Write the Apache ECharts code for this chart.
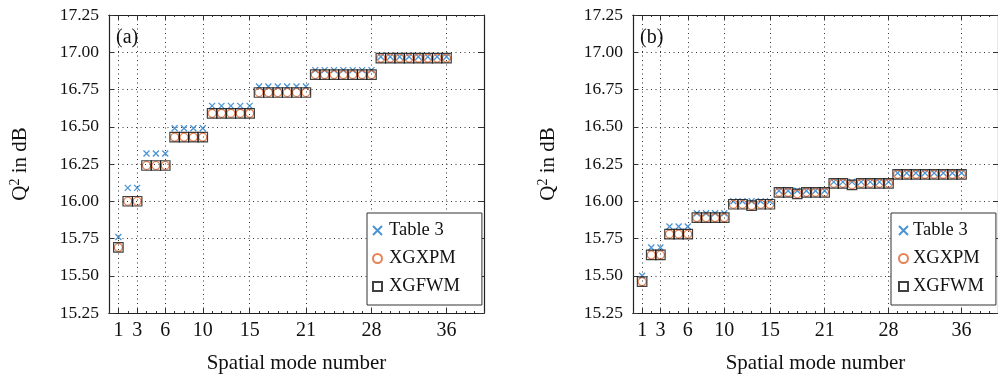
<!DOCTYPE html>
<html>
<head>
<meta charset="utf-8">
<script src="https://cdn.jsdelivr.net/npm/echarts@6.0.0/dist/echarts.min.js"></script>
<style>
  html, body { margin: 0; padding: 0; background: #fff; }
  #chart { width: 998px; height: 379px; }
</style>
</head>
<body>
<div id="chart"></div>
<script>
// spatial mode numbers
const modes = [1, 2, 3, 4, 5, 6, 7, 8, 9, 10, 11, 12, 13, 14, 15, 16, 17, 18,
  19, 20, 21, 22, 23, 24, 25, 26, 27, 28, 29, 30, 31, 32, 33, 34, 35, 36];
const xTickLabels = [1, 3, 6, 10, 15, 21, 28, 36];
const xMin = 0, xMax = 40;

// panel (a)
const tableA = [15.76, 16.09, 16.09, 16.32, 16.32, 16.32, 16.49, 16.49, 16.49, 16.49,
  16.64, 16.64, 16.64, 16.64, 16.64, 16.77, 16.77, 16.77, 16.77, 16.77, 16.77,
  16.88, 16.88, 16.88, 16.88, 16.88, 16.88, 16.88,
  16.97, 16.97, 16.97, 16.97, 16.97, 16.97, 16.97, 16.97];
const xgxpmA = [15.69, 16.00, 16.00, 16.24, 16.24, 16.24, 16.43, 16.43, 16.43, 16.43,
  16.59, 16.59, 16.59, 16.59, 16.59, 16.73, 16.73, 16.73, 16.73, 16.73, 16.73,
  16.85, 16.85, 16.85, 16.85, 16.85, 16.85, 16.85,
  16.96, 16.96, 16.96, 16.96, 16.96, 16.96, 16.96, 16.96];
const xgfwmA = [15.69, 16.00, 16.00, 16.24, 16.24, 16.24, 16.43, 16.43, 16.43, 16.43,
  16.59, 16.59, 16.59, 16.59, 16.59, 16.73, 16.73, 16.73, 16.73, 16.73, 16.73,
  16.85, 16.85, 16.85, 16.85, 16.85, 16.85, 16.85,
  16.96, 16.96, 16.96, 16.96, 16.96, 16.96, 16.96, 16.96];

// panel (b)
const tableB = [15.50, 15.69, 15.69, 15.83, 15.83, 15.83, 15.92, 15.92, 15.92, 15.92,
  16.00, 16.00, 16.00, 16.00, 16.00, 16.07, 16.07, 16.07, 16.07, 16.07, 16.07,
  16.13, 16.13, 16.13, 16.13, 16.13, 16.13, 16.13,
  16.19, 16.19, 16.19, 16.19, 16.19, 16.19, 16.19, 16.19];
const xgxpmB = [15.46, 15.64, 15.64, 15.78, 15.78, 15.78, 15.89, 15.89, 15.89, 15.89,
  15.98, 15.98, 15.97, 15.98, 15.98, 16.06, 16.06, 16.05, 16.06, 16.06, 16.06,
  16.12, 16.12, 16.11, 16.12, 16.12, 16.12, 16.12,
  16.18, 16.18, 16.18, 16.18, 16.18, 16.18, 16.18, 16.18];
const xgfwmB = [15.46, 15.64, 15.64, 15.78, 15.78, 15.78, 15.89, 15.89, 15.89, 15.89,
  15.98, 15.98, 15.97, 15.98, 15.98, 16.06, 16.06, 16.05, 16.06, 16.06, 16.06,
  16.12, 16.12, 16.11, 16.12, 16.12, 16.12, 16.12,
  16.18, 16.18, 16.18, 16.18, 16.18, 16.18, 16.18, 16.18];

const seriesNames = ['Table 3', 'XGXPM', 'XGFWM'];

const FONT = 'Liberation Serif';
const BLUE = '#1f78c8';
const ORANGE = '#e0642c';
const CROSS = 'path://M0,0L10,10M10,0L0,10';

const categories = [];
for (let i = xMin; i <= xMax; i++) categories.push(String(i));
const isMajor = (idx, val) => xTickLabels.includes(Number(val));

const grids = [
  { left: 109, top: 15, width: 375, height: 298 },
  { left: 633, top: 15, width: 375, height: 298 }
];

const dotted = { show: true, lineStyle: { color: '#333', width: 1, type: [1, 3.5] } };

function xAxesFor(g) {
  const base = {
    type: 'category', data: categories, boundaryGap: false, gridIndex: g,
    axisLine: { show: true, onZero: false, lineStyle: { color: '#222', width: 1.2 } }
  };
  return [
    Object.assign({}, base, {
      position: 'bottom',
      name: 'Spatial mode number', nameLocation: 'middle', nameGap: 40,
      nameTextStyle: { fontFamily: FONT, fontSize: 21, color: '#111' },
      axisTick: { show: true, inside: true, length: 5, interval: isMajor, lineStyle: { color: '#333' } },
      axisLabel: { show: true, interval: isMajor, margin: 8, fontFamily: FONT, fontSize: 20, color: '#111' },
      splitLine: Object.assign({ interval: isMajor }, dotted)
    }),
    Object.assign({}, base, {
      position: 'bottom',
      axisTick: { show: true, inside: true, length: 2, interval: 0, lineStyle: { color: '#333' } },
      axisLabel: { show: false }, splitLine: { show: false }
    }),
    Object.assign({}, base, {
      position: 'top',
      axisTick: { show: true, inside: true, length: 5, interval: isMajor, lineStyle: { color: '#333' } },
      axisLabel: { show: false }, splitLine: { show: false }
    }),
    Object.assign({}, base, {
      position: 'top',
      axisTick: { show: true, inside: true, length: 2, interval: 0, lineStyle: { color: '#333' } },
      axisLabel: { show: false }, splitLine: { show: false }
    })
  ];
}

function yAxesFor(g, labelMargin, nameGap) {
  const base = {
    type: 'value', gridIndex: g, min: 15.25, max: 17.25, interval: 0.25,
    axisLine: { show: true, onZero: false, lineStyle: { color: '#222', width: 1.2 } },
    axisTick: { show: true, inside: true, length: 5, lineStyle: { color: '#333' } }
  };
  return [
    Object.assign({}, base, {
      position: 'left',
      name: '{t|Q}{s|2}{t| in dB}', nameLocation: 'middle', nameRotate: 90, nameGap: nameGap,
      nameTextStyle: {
        fontFamily: FONT, fontSize: 21, color: '#111',
        rich: {
          t: { fontFamily: FONT, fontSize: 21, color: '#111' },
          s: { fontFamily: FONT, fontSize: 14, color: '#111', verticalAlign: 'top', padding: [0, 0, 10, 0] }
        }
      },
      axisLabel: {
        show: true, margin: labelMargin, fontFamily: FONT, fontSize: 17.5, color: '#111',
        formatter: v => v.toFixed(2)
      },
      splitLine: dotted
    }),
    Object.assign({}, base, {
      position: 'right',
      axisLabel: { show: false }, splitLine: { show: false }
    })
  ];
}

function panelSeries(g, table, xgxpm, xgfwm) {
  const xi = g * 4, yi = g * 2;
  const pts = vals => modes.map((m, i) => [m, vals[i]]);
  return [
    {
      name: seriesNames[0], type: 'scatter', xAxisIndex: xi, yAxisIndex: yi,
      symbol: CROSS, symbolSize: 6,
      itemStyle: { color: 'rgba(0,0,0,0)', borderColor: BLUE, borderWidth: 1.3 },
      data: pts(table), z: 3
    },
    {
      name: seriesNames[1], type: 'scatter', xAxisIndex: xi, yAxisIndex: yi,
      symbol: 'circle', symbolSize: 8,
      itemStyle: { color: 'rgba(0,0,0,0)', borderColor: ORANGE, borderWidth: 1.2 },
      data: pts(xgxpm), z: 4
    },
    {
      name: seriesNames[2], type: 'scatter', xAxisIndex: xi, yAxisIndex: yi,
      symbol: 'rect', symbolSize: 9.5,
      itemStyle: { color: 'rgba(0,0,0,0)', borderColor: '#111', borderWidth: 1.2 },
      data: pts(xgfwm), z: 5
    }
  ];
}

function legendFor(left, padding, textPad) {
  return {
    data: seriesNames, orient: 'vertical', left: left, top: 213,
    itemWidth: 9, itemHeight: 9, itemGap: 9, padding: padding,
    backgroundColor: '#fff', borderColor: '#333', borderWidth: 1, borderRadius: 0,
    textStyle: { fontFamily: FONT, fontSize: 18.5, lineHeight: 19, color: '#111', padding: [0, 0, 0, textPad] },
    selectedMode: false
  };
}

const chart = echarts.init(document.getElementById('chart'), null, { renderer: 'canvas' });
const option = {
  animation: false,
  backgroundColor: '#fff',
  title: [
    { text: '(a)', left: 116, top: 28, padding: 0, textStyle: { fontFamily: FONT, fontSize: 20, fontWeight: 'normal', color: '#111' } },
    { text: '(b)', left: 640, top: 28, padding: 0, textStyle: { fontFamily: FONT, fontSize: 20, fontWeight: 'normal', color: '#111' } }
  ],
  grid: grids,
  xAxis: xAxesFor(0).concat(xAxesFor(1)),
  yAxis: yAxesFor(0, 10, 77).concat(yAxesFor(1, 10, 73)),
  legend: [legendFor(367, [8, 22, 9, 5], 2), legendFor(891, [8, 12, 9, 7], 0)],
  series: panelSeries(0, tableA, xgxpmA, xgfwmA).concat(panelSeries(1, tableB, xgxpmB, xgfwmB))
};
chart.setOption(option);
</script>
</body>
</html>
